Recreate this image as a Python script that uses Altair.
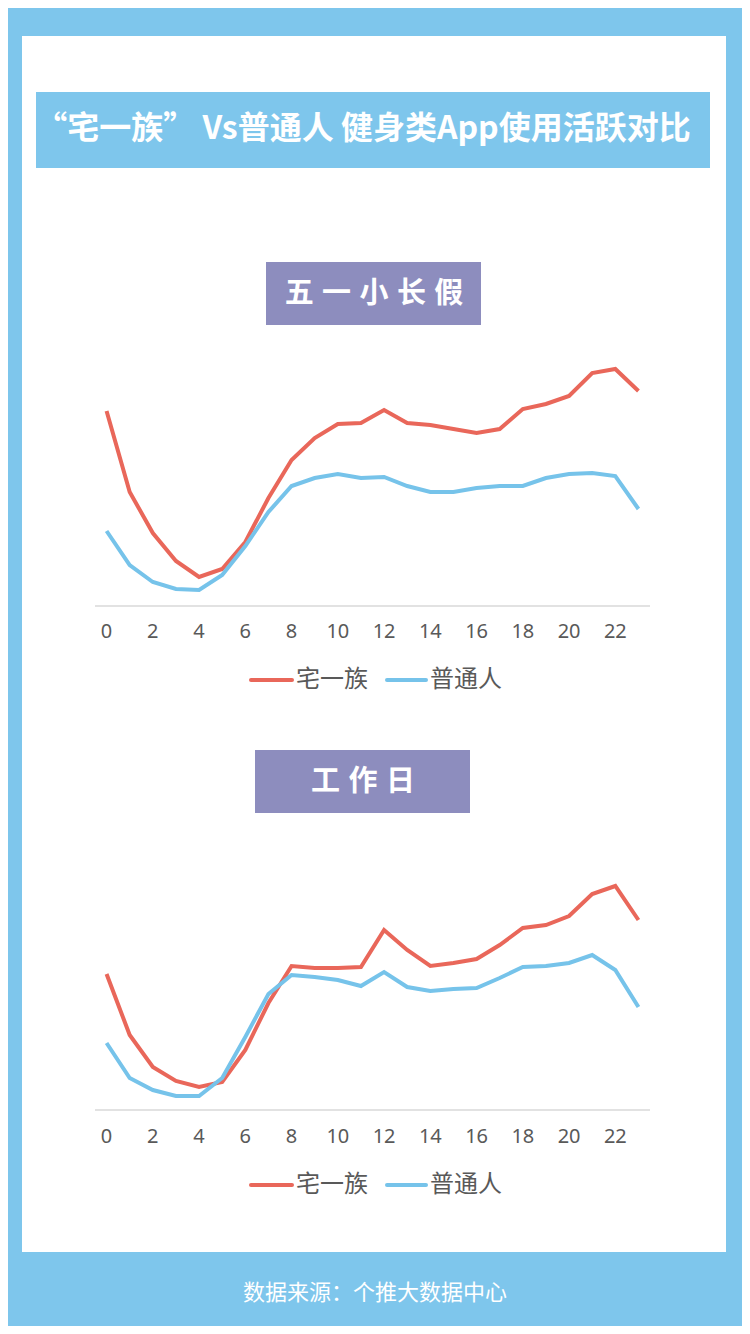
import altair as alt
import pandas as pd

# ---------------- data ----------------
hours = list(range(24))
series = ["宅一族", "普通人"]

holiday_zhai = [195, 114, 73, 45, 29, 37, 64, 108, 146, 168, 182, 183,
                196, 183, 181, 177, 173, 177, 197, 202, 210, 233, 237, 215]
holiday_normal = [75, 41, 24, 17, 16, 31, 60, 94, 120, 128, 132, 128,
                  129, 120, 114, 114, 118, 120, 120, 128, 132, 133, 130, 97]

workday_zhai = [136, 75, 43, 29, 23, 28, 60, 107, 144, 142, 142, 143,
                180, 160, 144, 147, 151, 165, 182, 185, 194, 216, 224, 190]
workday_normal = [67, 32, 20, 14, 14, 32, 73, 116, 135, 133, 130, 124,
                  138, 123, 119, 121, 122, 132, 143, 144, 147, 155, 140, 103]

tick_labels = [0, 2, 4, 6, 8, 10, 12, 14, 16, 18, 20, 22]

title_text = "“宅一族” Vs普通人 健身类App使用活跃对比"
SP = " \u200a"
sub1_text = SP.join("五一小长假")
sub2_text = SP.join("工作日")
footer_text = "数据来源：个推大数据中心"

RED = "#E9675A"
BLUE = "#76C3EA"
BG = "#7EC6EC"
PURPLE = "#8D8DBE"
GRAY = "#595959"
CJK = "Noto Sans CJK SC"

W, H = 734, 1318


def long_df(a, b):
    rows = []
    for h, v in zip(hours, a):
        rows.append({"hour": h, "group": series[0], "value": v})
    for h, v in zip(hours, b):
        rows.append({"hour": h, "group": series[1], "value": v})
    return pd.DataFrame(rows)


df1 = long_df(holiday_zhai, holiday_normal)
df2 = long_df(workday_zhai, workday_normal)
ticks_df = pd.DataFrame({"hour": tick_labels, "label": [str(t) for t in tick_labels]})

xscale = alt.Scale(domain=[-0.5, 23.5], range=[87, 642], nice=False, zero=False)
color = alt.Color("group:N", scale=alt.Scale(domain=series, range=[RED, BLUE]), legend=None)

one = pd.DataFrame({"a": [0]})
base = alt.Chart(one)

# ---------------- decorations ----------------
white_panel = base.mark_rect(color="white").encode(
    x=alt.value(14), x2=alt.value(718), y=alt.value(28), y2=alt.value(1244))
title_bar = base.mark_rect(color=BG).encode(
    x=alt.value(28), x2=alt.value(702), y=alt.value(84), y2=alt.value(160))
title = base.mark_text(font=CJK, fontSize=32, fontWeight="bold", color="white",
                       align="center", baseline="middle").encode(
    x=alt.value(355), y=alt.value(121), text=alt.value(title_text))

box1 = base.mark_rect(color=PURPLE).encode(
    x=alt.value(258), x2=alt.value(473), y=alt.value(254), y2=alt.value(317))
sub1 = base.mark_text(font=CJK, fontSize=29, fontWeight="bold", color="white",
                      align="center", baseline="middle").encode(
    x=alt.value(366), y=alt.value(286), text=alt.value(sub1_text))

box2 = base.mark_rect(color=PURPLE).encode(
    x=alt.value(247), x2=alt.value(462), y=alt.value(742), y2=alt.value(805))
sub2 = base.mark_text(font=CJK, fontSize=29, fontWeight="bold", color="white",
                      align="center", baseline="middle").encode(
    x=alt.value(355), y=alt.value(774), text=alt.value(sub2_text))

footer = base.mark_text(font=CJK, fontSize=22, color="white",
                        align="center", baseline="middle").encode(
    x=alt.value(367), y=alt.value(1285), text=alt.value(footer_text))


def panel(df, y_base, label_y, legend_y):
    ys = alt.Scale(domain=[0, 250], range=[y_base, y_base - 250], nice=False, zero=True)
    axis_line = base.mark_rule(color="#D9D9D9", strokeWidth=1.5).encode(
        x=alt.value(87), x2=alt.value(642), y=alt.value(y_base))
    lines = alt.Chart(df).mark_line(strokeWidth=4).encode(
        x=alt.X("hour:Q", scale=xscale, axis=None),
        y=alt.Y("value:Q", scale=ys, axis=None),
        color=color,
        order="hour:Q",
    )
    labels = alt.Chart(ticks_df).mark_text(font="Noto Sans", fontSize=20, color=GRAY,
                                           align="center", baseline="middle").encode(
        x=alt.X("hour:Q", scale=xscale, axis=None),
        y=alt.value(label_y),
        text="label:N",
    )
    leg = []
    for (x0, x1, tx, name, col) in [(243, 284, 288, series[0], RED),
                                    (379, 418, 422, series[1], BLUE)]:
        leg.append(base.mark_rule(color=col, strokeWidth=4, strokeCap="round").encode(
            x=alt.value(x0), x2=alt.value(x1), y=alt.value(legend_y)))
        leg.append(base.mark_text(font=CJK, fontSize=24, color=GRAY, align="left",
                                  baseline="middle").encode(
            x=alt.value(tx), y=alt.value(legend_y), text=alt.value(name)))
    return [axis_line, lines, labels] + leg


layers = [white_panel, title_bar, title, box1, sub1, box2, sub2, footer]
layers += panel(df1, 598, 624, 672)
layers += panel(df2, 1102, 1129, 1177)

chart = alt.layer(*layers).resolve_scale(y="independent").properties(
    width=W, height=H, padding=0, background=BG,
    autosize=alt.AutoSizeParams(type="none"),
).configure_view(stroke=None)

chart.save("out.html", embed_options={"renderer": "svg", "actions": False})
